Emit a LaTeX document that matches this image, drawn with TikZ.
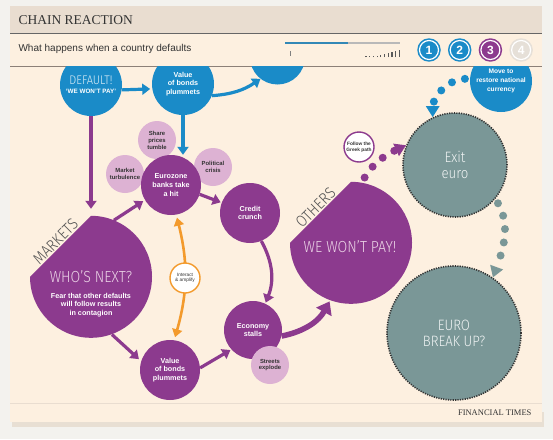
\documentclass[tikz,border=0pt]{standalone}
\usepackage{fontspec}
\setmainfont{Liberation Sans}
\newfontfamily\ftserif{Liberation Serif}
\newfontfamily\ftlight{Fira Sans Light}[FakeStretch=0.88]
\usetikzlibrary{arrows.meta,positioning,calc}

\definecolor{ftout}{HTML}{F3F2EE}
\definecolor{ftpaper}{HTML}{FDF0E0}
\definecolor{ftband}{HTML}{E9DDD0}
\definecolor{ftshadow}{HTML}{E8DFD3}
\definecolor{ftrule}{HTML}{8C8078}
\definecolor{ftblue}{HTML}{1A8BC8}
\definecolor{ftpurple}{HTML}{8C3A8E}
\definecolor{ftpink}{HTML}{DDB2D3}
\definecolor{ftorange}{HTML}{F39A2C}
\definecolor{ftteal}{HTML}{7A9797}
\definecolor{ftgone}{HTML}{E6E0D8}
\definecolor{ftink}{HTML}{333333}

\begin{document}
\begin{tikzpicture}[x=1pt,y=1pt,
    btxt/.style={align=center,text=white,font=\bfseries\fontsize{7.2}{8.8}\selectfont},
    bub/.style={btxt,circle,inner sep=0pt},
    bluec/.style={bub,fill=ftblue,minimum size=62pt},
    purc/.style={bub,fill=ftpurple,minimum size=60pt},
    pinkc/.style={bub,fill=ftpink,minimum size=38pt,text=ftink,
        font=\bfseries\fontsize{5.9}{6.9}\selectfont},
    tagc/.style={bub,fill=white,line width=1.4pt,minimum size=30pt,text=ftink,
        font=\fontsize{4.8}{5.6}\selectfont},
    hub/.style={circle,inner sep=0pt,minimum size=122pt},
    greyc/.style={circle,inner sep=0pt,align=center,fill=ftteal,draw=black!80,
        line width=1.6pt,dash pattern=on 1.2pt off 1.2pt,text=white!88!ftteal,
        font=\ftlight\fontsize{15}{16}\selectfont},
    lite/.style={inner sep=1pt,font=\ftlight\fontsize{16}{18}\selectfont},
    arr/.style={line width=3.2pt,-{Triangle[length=8pt,width=11pt]}},
    dotpath/.style={line width=8pt,line cap=round,dash pattern=on 0pt off 13.5pt,
        -{Triangle[length=11pt,width=13pt]}},
    numc/.style={circle,fill=#1,draw=white,line width=1.2pt,minimum size=19pt,
        inner sep=0pt,text=white,font=\bfseries\fontsize{12}{12}\selectfont,
        preaction={draw=#1,line width=4.4pt}}
]

\fill[ftout] (0,0) rectangle (553,-439);
\fill[ftshadow] (12,-412) rectangle (544,-427);
\fill[ftpaper] (10,-6) rectangle (542,-422);
\fill[ftband] (10,-6) rectangle (542,-33);
\draw[black!60,line width=0.8pt] (10,-33) -- (542,-33);
\draw[ftrule,line width=0.8pt] (10,-66) -- (542,-66);
\draw[ftband,line width=0.6pt] (10,-403) -- (542,-403);

\node[anchor=west,text=ftink,font=\ftserif\fontsize{13.5}{14}\selectfont] (title) at (15,-20) {CHAIN REACTION};
\node[anchor=west,text=ftink,font=\fontsize{10}{11}\selectfont] (subtitle) at (15,-49) {What happens when a country defaults};
\node[anchor=east,text=ftink,font=\ftserif\fontsize{8.5}{9}\selectfont] (ftlogo) at (535,-413) {FINANCIAL TIMES};

\draw[ftblue!75!gray,line width=1.3pt] (285,-43) -- (348,-43);
\draw[gray!55,line width=1.3pt] (348,-43) -- (400,-43);
\draw[gray,line width=0.6pt] (290,-51) -- (290,-56);
\foreach \i/\h in {0/0.8,1/0.8,2/1,3/1.3,4/2,5/3,6/4.5,7/5.5,8/6.5,9/7}
    \draw[black!65,line width=1.2pt] ({366+3.7*\i},-57) -- ++(0,\h);

\node[numc=ftblue] (one) at (429,-50) {1};
\node[numc=ftblue,right=10.5pt of one] (two) {2};
\node[numc=ftpurple,right=10.5pt of two] (three) {3};
\node[numc=ftgone,right=10.5pt of three] (four) {4};

\begin{scope}
\clip (10,-66) rectangle (542,-403);
\node[bluec] (default) at (91,-85) {{\ftlight\mdseries\fontsize{12.5}{14}\selectfont\color{white!85!ftblue}DEFAULT!}\\{\fontsize{6.3}{7}\selectfont ‘WE WON’T PAY’}};
\node[bluec] (bonds1) at (183,-84) {Value\\of bonds\\plummets};
\node[bluec,minimum size=55pt] (offtop) at (277.5,-57) {};
\node[bluec,font=\bfseries\fontsize{6.6}{8.6}\selectfont] (restore) at (501,-81) {Move to\\restore national\\currency};
\node[pinkc] (share) at (157,-140) {Share\\prices\\tumble};
\node[pinkc] (market) at (125,-174) {Market\\turbulence};
\node[pinkc] (political) at (213,-167) {Political\\crisis};
\node[purc] (banks) at (171,-185) {Eurozone\\banks take\\a hit};
\node[purc] (credit) at (250,-213) {Credit\\crunch};
\node[purc,minimum size=58pt] (economy) at (253,-330) {Economy\\stalls};
\node[pinkc] (streets) at (270,-365) {Streets\\explode};
\node[purc] (bonds2) at (170,-370) {Value\\of bonds\\plummets};
\node[hub] (whonext) at (91,-277) {};
\node[hub] (wepay) at (351,-243) {};
\fill[ftpurple] (whonext.north) arc[start angle=90,end angle=-180,radius=61] -- cycle;
\fill[ftpurple] (wepay.north) arc[start angle=90,end angle=-180,radius=61] -- cycle;

\node[lite,rotate=45,anchor=south,text=ftink!85] (markets) at ($(whonext.north)!0.5!(whonext.west)$) {MARKETS};
\node[lite,text=ftpink!55!white] (whotitle) at (91,-277) {WHO’S NEXT?};
\node[btxt] (whotext) at (91,-305) {Fear that other defaults\\will follow results\\in contagion};
\node[lite,rotate=45,anchor=south,text=ftink!85] (others) at ($(wepay.north)!0.5!(wepay.west)$) {OTHERS};
\node[lite,text=ftpink!55!white] (wetitle) at (350,-247) {WE WON’T PAY!};
\node[greyc,minimum size=104pt] (exit) at (455,-165) {Exit\\euro};
\node[greyc,minimum size=134pt] (breakup) at (454,-333) {EURO\\BREAK UP?};

\draw[arr,ftblue,shorten >=2pt] (default.-9) -- (bonds1.-171);
\draw[arr,ftblue] (bonds1.-22) to[bend right=15] (offtop.232);
\draw[arr,ftblue] (bonds1.south) -- (bonds1.south |- banks.north);
\draw[arr,ftpurple,shorten >=7pt] (default.south) -- (whonext.north);
\draw[arr,ftpurple,shorten >=2pt] (whonext.68) -- (banks.210);
\draw[arr,ftpurple,shorten >=3pt] (whonext.-70) -- (bonds2.163);
\draw[arr,ftpurple,shorten >=1pt] (banks.-18) -- (credit.160);
\draw[arr,ftpurple,shorten >=1pt] (credit.-68) to[bend left=25] (economy.65);
\draw[arr,ftpurple,shorten >=1pt] (bonds2.4) -- (economy.222);
\draw[ftpurple,line width=5.5pt,-{Triangle[length=12pt,width=17pt]},shorten >=1pt] (economy.-12) to[bend right=25] (wepay.250);
\draw[ftorange,line width=2.6pt,{Triangle[length=8pt,width=10pt]}-{Triangle[length=8pt,width=10pt]},shorten <=3pt,shorten >=3pt] (banks.-80) to[bend left=15] (bonds2.82);
\node[tagc,draw=ftorange] (interact) at (185,-278) {Interact\\\& amplify};

\draw[dotpath,ftblue,shorten <=5pt] (restore.176) to[out=180,in=90] (exit.115);
\draw[dotpath,ftpurple,shorten <=6pt] (wepay.80) to[out=60,in=205] (exit.158);
\node[tagc,draw=ftpurple,font=\bfseries\fontsize{4.8}{5.6}\selectfont] (greek) at (359,-147) {Follow the\\Greek path};
\draw[dotpath,ftteal,shorten <=5pt] (exit.-40) to[out=-60,in=70] (breakup.55);
\end{scope}

\useasboundingbox (0,0) rectangle (553,-439);
\end{tikzpicture}
\end{document}
